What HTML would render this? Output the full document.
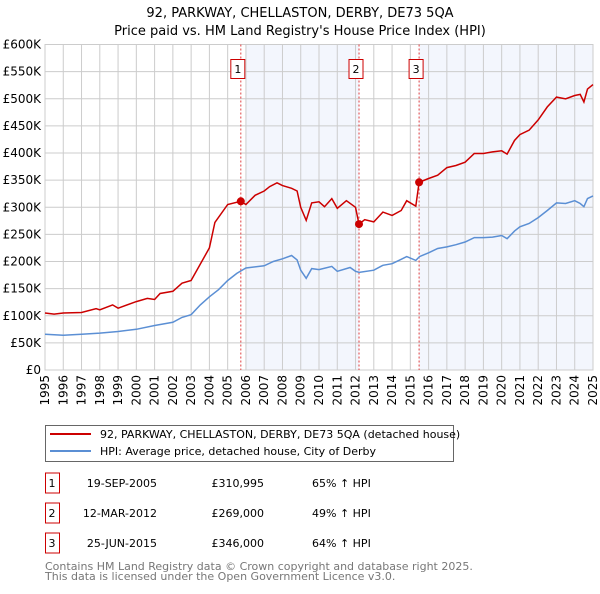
<!DOCTYPE html>
<html><head><meta charset="utf-8">
<style>
body{margin:0;background:#fff;font-family:"DejaVu Sans","Liberation Sans",sans-serif;}
svg text{font-family:"DejaVu Sans","Liberation Sans",sans-serif;}
</style></head>
<body>
<svg id="chart" width="600" height="590" xmlns="http://www.w3.org/2000/svg">
<text x="300" y="17" text-anchor="middle" font-size="13">92, PARKWAY, CHELLASTON, DERBY, DE73 5QA</text>
<text x="300" y="35" text-anchor="middle" font-size="13">Price paid vs. HM Land Registry's House Price Index (HPI)</text>
<g id="plot"></g>
<g>
<rect x="45.5" y="425.5" width="408" height="36" fill="#fff" stroke="#666"/>
<line x1="50" y1="434" x2="91" y2="434" stroke="#cc0000" stroke-width="2"/>
<text x="100" y="438" font-size="11">92, PARKWAY, CHELLASTON, DERBY, DE73 5QA (detached house)</text>
<line x1="50" y1="451" x2="91" y2="451" stroke="#5b8fd4" stroke-width="2"/>
<text x="100" y="455" font-size="11">HPI: Average price, detached house, City of Derby</text>
</g>
<g id="table" font-size="11"></g>
<text x="45" y="570" font-size="11" fill="#777">Contains HM Land Registry data © Crown copyright and database right 2025.</text>
<text x="45" y="580" font-size="11" fill="#777">This data is licensed under the Open Government Licence v3.0.</text>
</svg>
<script>
const redYears=[1995,1995.5,1996,1997,1997.8,1998,1998.7,1999,2000,2000.6,2001,2001.3,2002,2002.5,2003,2004,2004.3,2005,2005.72,2006,2006.5,2007,2007.3,2007.7,2008,2008.5,2008.8,2009,2009.3,2009.6,2010,2010.3,2010.7,2011,2011.5,2012,2012.19,2012.5,2013,2013.5,2014,2014.5,2014.8,2015.3,2015.48,2016,2016.5,2017,2017.5,2018,2018.5,2019,2019.5,2020,2020.3,2020.7,2021,2021.5,2022,2022.5,2023,2023.5,2024,2024.3,2024.5,2024.7,2025];
const redValues=[105,103,105,106,113,111,120,114,126,132,130,141,145,160,165,225,272,305,311,305,322,330,338,345,340,335,330,300,276,308,310,301,316,298,312,300,269,277,273,291,285,294,312,302,346,353,359,373,377,383,399,399,402,404,398,423,434,442,461,485,503,500,506,508,494,518,526];
const hpiYears=[1995,1996,1997,1998,1999,2000,2001,2002,2002.5,2003,2003.5,2004,2004.5,2005,2005.5,2006,2007,2007.5,2008,2008.5,2008.8,2009,2009.3,2009.6,2010,2010.7,2011,2011.7,2012,2012.2,2013,2013.5,2014,2014.5,2014.8,2015.3,2015.5,2016,2016.5,2017,2017.5,2018,2018.5,2019,2019.5,2020,2020.3,2020.7,2021,2021.5,2022,2022.5,2023,2023.5,2024,2024.3,2024.5,2024.7,2025];
const hpiValues=[66,64,66,68,71,75,82,88,97,102,120,135,148,165,178,188,192,200,205,211,203,184,169,187,185,191,182,189,182,180,184,193,196,204,209,202,209,216,224,227,231,236,244,244,245,248,242,256,264,270,281,294,308,307,312,307,301,316,321];
const saleYears=[2005.72,2012.19,2015.48];
const saleValues=[310995,269000,346000];
const saleLabels=["1","2","3"];
const saleDates=["19-SEP-2005","12-MAR-2012","25-JUN-2015"];
const salePrices=["£310,995","£269,000","£346,000"];
const saleHpi=["65% ↑ HPI","49% ↑ HPI","64% ↑ HPI"];
const yTicks=[0,50,100,150,200,250,300,350,400,450,500,550,600];
const yTickLabels=["£0","£50K","£100K","£150K","£200K","£250K","£300K","£350K","£400K","£450K","£500K","£550K","£600K"];
const xTicks=[1995,1996,1997,1998,1999,2000,2001,2002,2003,2004,2005,2006,2007,2008,2009,2010,2011,2012,2013,2014,2015,2016,2017,2018,2019,2020,2021,2022,2023,2024,2025];

const L=45,R=593,T=44.5,B=370;
const xs=y=>L+(y-1995)/30*(R-L);
const ys=v=>B-v/600*(B-T);
const NS="http://www.w3.org/2000/svg";
const plot=document.getElementById('plot');
function mk(tag,attrs,parent){const e=document.createElementNS(NS,tag);for(const k in attrs)e.setAttribute(k,attrs[k]);(parent||plot).appendChild(e);return e;}

let s1=mk('rect',{x:xs(2006),y:T,width:xs(saleYears[1])-xs(2006),height:B-T,fill:'#eef2fc',opacity:0.7});


let s2=mk('rect',{x:xs(saleYears[2]),y:T,width:R-xs(saleYears[2]),height:B-T,fill:'#eef2fc',opacity:0.7});



yTicks.forEach((t,i)=>{
  const g=mk('line',{x1:L,x2:R,y1:ys(t),y2:ys(t),stroke:'#ccc','stroke-width':1});
  
  
  const tx=mk('text',{x:L-4,y:ys(t)+4,'text-anchor':'end','font-size':12});
  tx.textContent=yTickLabels[i];
  
  
});
xTicks.forEach(t=>{
  const g=mk('line',{x1:xs(t),x2:xs(t),y1:T,y2:B,stroke:'#ccc','stroke-width':1});
  
  
  const tx=mk('text',{x:0,y:0,'text-anchor':'end','font-size':12,transform:`translate(${xs(t)+4},${B+5}) rotate(-90)`});
  tx.textContent=t;
  
  
});
const fr=mk('rect',{x:L,y:T,width:R-L,height:B-T,fill:'none',stroke:'#ccc'});



saleYears.forEach((y,i)=>{
  const l=mk('line',{x1:xs(y),x2:xs(y),y1:T,y2:B,stroke:'#e04040','stroke-width':1,'stroke-dasharray':'2,2'});
  
  
});

function pathOf(xa,va){return xa.map((y,i)=>(i?'L':'M')+xs(y).toFixed(1)+','+ys(va[i]).toFixed(1)).join('');}
const hp=mk('path',{d:pathOf(hpiYears,hpiValues),fill:'none',stroke:'#5b8fd4','stroke-width':1.5});


const rp=mk('path',{d:pathOf(redYears,redValues),fill:'none',stroke:'#cc0000','stroke-width':1.5});



saleYears.forEach((y,i)=>{
  const c=mk('circle',{cx:xs(y),cy:ys(saleValues[i]/1000),r:4,fill:'#cc0000'});
  
  
  const bx=xs(y)-3;
  const r=mk('rect',{x:bx-7,y:59.5,width:14,height:19,fill:'#fff',stroke:'#cc0000'});
  
  
  const t=mk('text',{x:bx,y:73,'text-anchor':'middle','font-size':11});
  t.textContent=saleLabels[i];
  
  
});

const tb=document.getElementById('table');
saleLabels.forEach((s,i)=>{
  const cy=483+i*30;
  const r=mk('rect',{x:45.5,y:cy-10,width:14,height:20,fill:'#fff',stroke:'#cc0000'},tb);
  
  
  const cells=[[52,'middle',s],[157,'end',saleDates[i]],[264,'end',salePrices[i]],[312,'start',saleHpi[i]]];
  cells.forEach(c=>{
    const t=mk('text',{x:c[0],y:cy+4,'text-anchor':c[1]},tb);
    t.textContent=c[2];
    
    
  });
});
</script>
</body></html>
